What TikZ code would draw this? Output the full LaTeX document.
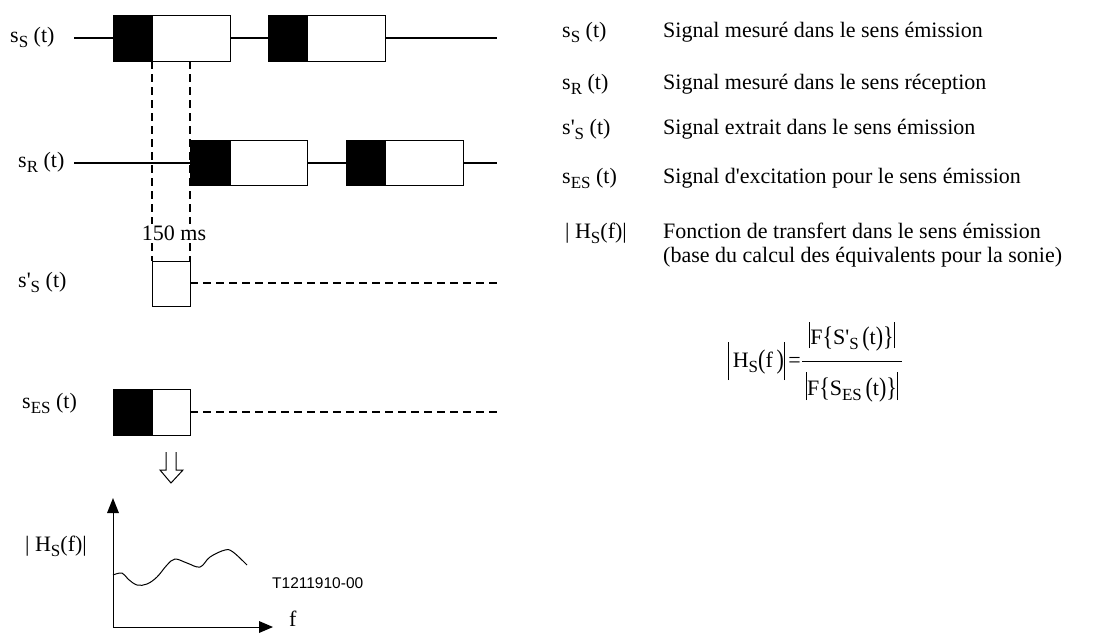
\documentclass[tikz,border=0pt]{standalone}
\usepackage{fontspec}
\usepackage{graphicx}
\setmainfont{Liberation Serif}[Ligatures=TeXOff]
\newfontfamily\arialfam{Liberation Sans}
\newcommand{\lsub}[1]{\raisebox{-5pt}{\fontsize{17}{18}\selectfont #1}}
\newcommand{\bigbar}[2]{\rule[-#1]{0.9pt}{#2}}
\newcommand{\tallch}[1]{\raisebox{-1pt}{\scalebox{1}[1.22]{#1}}}
\begin{document}
\begin{tikzpicture}[x=1pt,y=-1pt,
  txt/.style={inner sep=0pt,font=\fontsize{22}{24}\selectfont},
  sig/.style={line width=1.6pt},
  dsig/.style={line width=1.6pt,dash pattern=on 8pt off 5pt},
  blk/.style={fill=black,draw=black,line width=0.8pt},
  wht/.style={fill=white,draw=black,line width=1pt}]
\useasboundingbox (0,0) rectangle (1101,633);
% ---------- s_S(t)
\node[txt,anchor=base west] (lS) at (10,42) {s\lsub{S} (t)};
\coordinate (sS0) at (74,38);
\coordinate (sS1) at (497,38);
\draw[sig] (sS0) -- (sS1);
\draw[wht] (152,15) rectangle (230,61);
\draw[blk] (113,15) rectangle (152,61);
\draw[wht] (307,15) rectangle (385,61);
\draw[blk] (268,15) rectangle (307,61);
% ---------- s_R(t)
\node[txt,anchor=base west] (lR) at (18,167) {s\lsub{R} (t)};
\coordinate (sR0) at (74,163);
\coordinate (sR1) at (497,163);
\draw[sig] (sR0) -- (sR1);
\draw[wht] (230,140) rectangle (307,185);
\draw[blk] (190,140) rectangle (230,185);
\draw[wht] (385,140) rectangle (463,185);
\draw[blk] (346,140) rectangle (385,185);
% ---------- dashed markers
\coordinate (d1a) at (152,61);
\coordinate (d1b) at (152,261);
\coordinate (d2a) at (190,61);
\coordinate (d2b) at (190,261);
\draw[dsig] (d1a) -- (d1b);
\draw[dsig] (d2a) -- (d2b);
\node[txt,fill=white,inner sep=1pt,anchor=base] (ms) at (174,240) {150 ms};
% ---------- s'_S(t)
\node[txt,anchor=base west] (lSp) at (18,287) {s'\lsub{S} (t)};
\draw[wht] (152,261) rectangle (190,306);
\coordinate (sp0) at (190,283);
\coordinate (sp1) at (497,283);
\draw[dsig] (sp0) -- (sp1);
% ---------- s_ES(t)
\node[txt,anchor=base west] (lES) at (22,408) {s\lsub{ES} (t)};
\draw[wht] (152,389) rectangle (190,435);
\draw[blk] (113,389) rectangle (152,435);
\coordinate (se0) at (190,412);
\coordinate (se1) at (498,412);
\draw[dsig] (se0) -- (se1);
% ---------- hollow arrow
\draw[line width=1pt,line join=miter] (166,452) -- (166,470) -- (160,470) -- (171,483) -- (183,470) -- (176,470) -- (176,452);
% ---------- graph
\coordinate (O) at (113,627);
\coordinate (Ytip) at (113,498);
\coordinate (Xtip) at (273,627);
\draw[line width=1pt] (O) -- (113,510);
\draw[line width=1pt] (O) -- (261,627);
\fill (Ytip) -- (107,513) -- (119,513) -- cycle;
\fill (Xtip) -- (259,621) -- (259,633) -- cycle;
\node[txt,anchor=base west] (lf) at (289,626) {f};
\node[txt,anchor=base west] (lH) at (25,551) {| H\lsub{S}(f)|};
\draw[line width=1pt] plot[smooth,tension=0.6] coordinates {(113,575) (122,573) (128,579) (137,585) (147,584) (157,577) (167,565) (175,559) (187,563) (200,567) (210,557) (225,550) (233,552) (247,565)};
\node[inner sep=0pt,anchor=base west,font=\arialfam\fontsize{15.5}{17}\selectfont] (code) at (272,588) {T1211910-00};
% ---------- legend
\node[txt,anchor=base west] (k1) at (562,37) {s\lsub{S} (t)};
\node[txt,anchor=base west] (k2) at (562,89) {s\lsub{R} (t)};
\node[txt,anchor=base west] (k3) at (562,134) {s'\lsub{S} (t)};
\node[txt,anchor=base west] (k4) at (562,183) {s\lsub{ES} (t)};
\node[txt,anchor=base west] (k5) at (565,238) {| H\lsub{S}(f)|};
\node[txt,anchor=base west] (t1) at (663,37) {Signal mesuré dans le sens émission};
\node[txt,anchor=base west] (t2) at (663,89) {Signal mesuré dans le sens réception};
\node[txt,anchor=base west] (t3) at (663,134) {Signal extrait dans le sens émission};
\node[txt,anchor=base west] (t4) at (663,183) {Signal d'excitation pour le sens émission};
\node[txt,anchor=base west] (t5) at (663,238) {Fonction de transfert dans le sens émission};
\node[txt,anchor=base west] (t6) at (663,262) {(base du calcul des équivalents pour la sonie)};
% ---------- formula
\node[txt,anchor=base east] (lhs) at (801,367) {\bigbar{13pt}{38pt}\,H\lsub{S}\tallch{(}f\,\tallch{)}\bigbar{13pt}{38pt}\,=};
\node[txt,anchor=base] (num) at (852,344) {\bigbar{4pt}{26pt}F\tallch{\{}S'\lsub{S}\,\tallch{(}t\tallch{)}\tallch{\}}\bigbar{4pt}{26pt}};
\node[txt,anchor=base] (den) at (852,395) {\bigbar{5pt}{28pt}F\tallch{\{}S\lsub{ES}\,\tallch{(}t\tallch{)}\tallch{\}}\bigbar{5pt}{28pt}};
\coordinate (fb0) at (802,361);
\coordinate (fb1) at (902,361);
\draw[line width=1pt] (fb0) -- (fb1);
\end{tikzpicture}
\end{document}
